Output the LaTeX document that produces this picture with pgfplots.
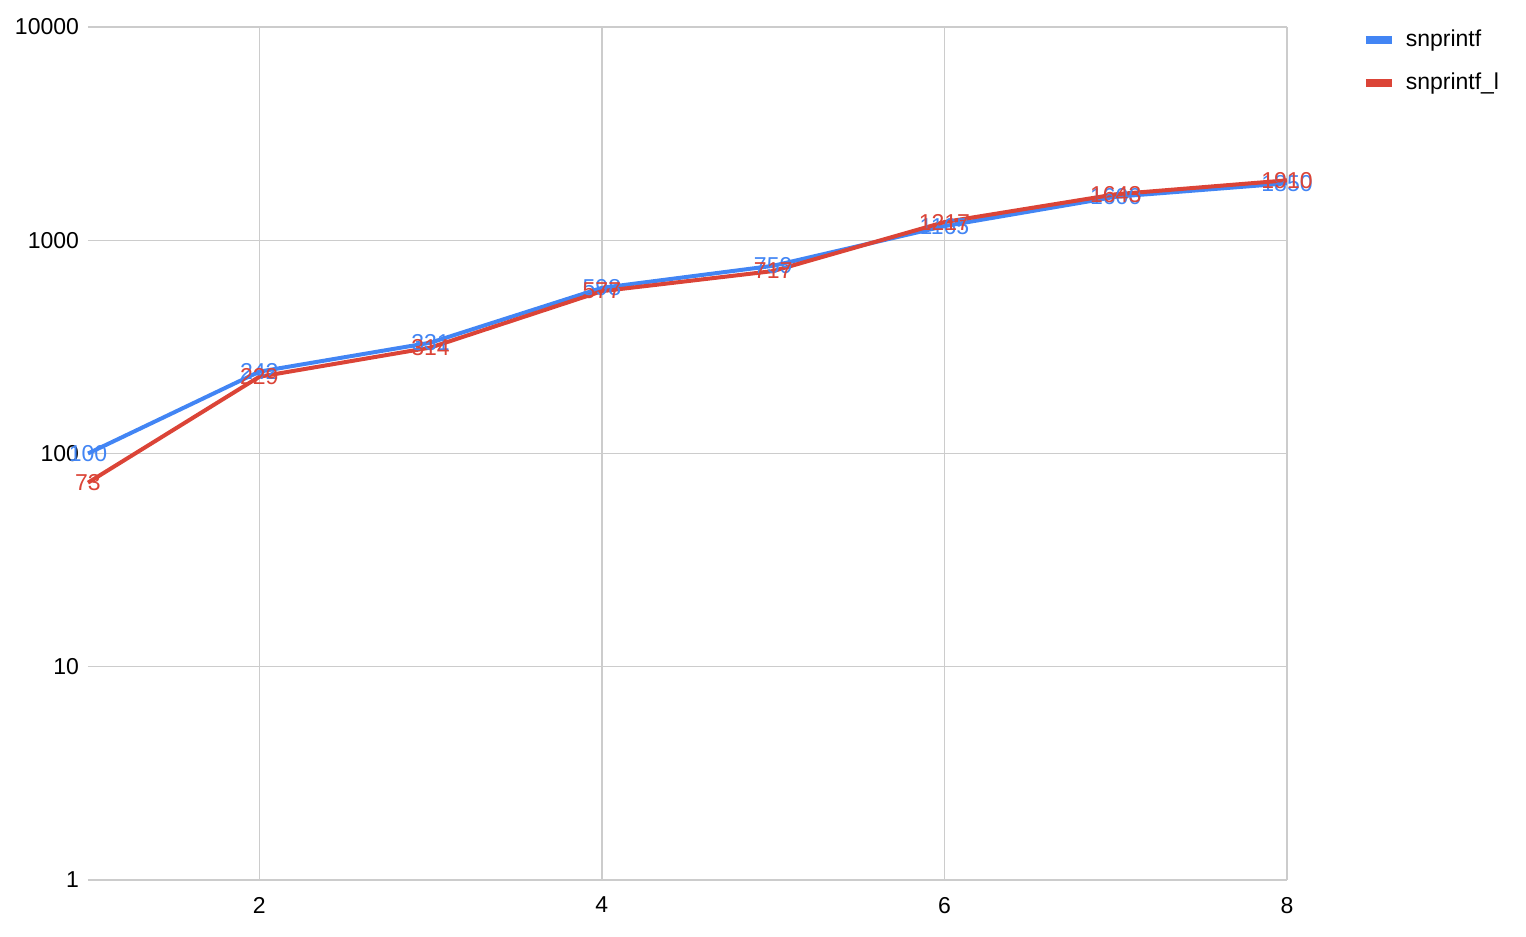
\documentclass[border=0pt]{standalone}
\usepackage{pgfplots}
\pgfplotsset{compat=1.18}
\usetikzlibrary{calc}
\usepackage{fontspec}
\setmainfont{Liberation Sans}
\definecolor{gblue}{HTML}{4285F4}
\definecolor{gred}{HTML}{DB4437}
\definecolor{ggrid}{HTML}{CCCCCC}
\begin{document}
\begin{tikzpicture}[x=1pt,y=1pt]
\begin{axis}[
  name=ax,
  scale only axis,
  width=599.5pt, height=426.5pt,
  xmin=1, xmax=8,
  ymode=log, ymin=1, ymax=10000,
  log basis y=10,
  xtick={2,4,6,8},
  ytick={1,10,100,1000,10000},
  yticklabels={1,10,100,1000,10000},
  /pgf/number format/assume math mode=true,
  tick label style={font=\fontsize{11.5}{13}\selectfont, text=black},
  grid=major,
  grid style={ggrid, line width=0.7pt},
  major tick length=0pt,
  axis line style={draw=none},
  xticklabel style={yshift=-5pt},
  yticklabel style={xshift=-1pt},
  clip=false,
  legend style={draw=none, fill=none, at={(rel axis cs:1.057,1.006)}, anchor=north west,
    font=\fontsize{11.5}{13}\selectfont, row sep=7.5pt, cells={anchor=west},
    nodes={inner xsep=5pt}},
  legend image code/.code={\draw[#1, line width=4pt] (0pt,0pt) -- (13pt,0pt);},
  every node near coord/.append style={anchor=center, inner sep=0pt, font=\fontsize{11.5}{13}\selectfont},
]
\addplot[gblue, line width=2pt] coordinates {
  (1,100) (2,242) (3,331) (4,598) (5,759) (6,1165) (7,1600) (8,1850)
};
\addlegendentry{snprintf}
\addplot[gred, line width=2pt] coordinates {
  (1,73) (2,229) (3,314) (4,577) (5,717) (6,1217) (7,1643) (8,1910)
};
\addlegendentry{snprintf\_l}
\addplot[draw=none, forget plot, nodes near coords, point meta=explicit symbolic,
  every node near coord/.append style={text=gblue}] coordinates {
  (1,100) [100] (2,242) [242] (3,331) [331] (4,598) [598] (5,759) [759]
  (6,1165) [1165] (7,1600) [1600] (8,1850) [1850]
};
\addplot[draw=none, forget plot, nodes near coords, point meta=explicit symbolic,
  every node near coord/.append style={text=gred}] coordinates {
  (1,73) [73] (2,229) [229] (3,314) [314] (4,577) [577] (5,717) [717]
  (6,1217) [1217] (7,1643) [1643] (8,1910) [1910]
};
\end{axis}
\path[use as bounding box] ($(ax.south west)+(-44pt,-28pt)$) rectangle ($(ax.north east)+(119.5pt,13.5pt)$);
\end{tikzpicture}
\end{document}
